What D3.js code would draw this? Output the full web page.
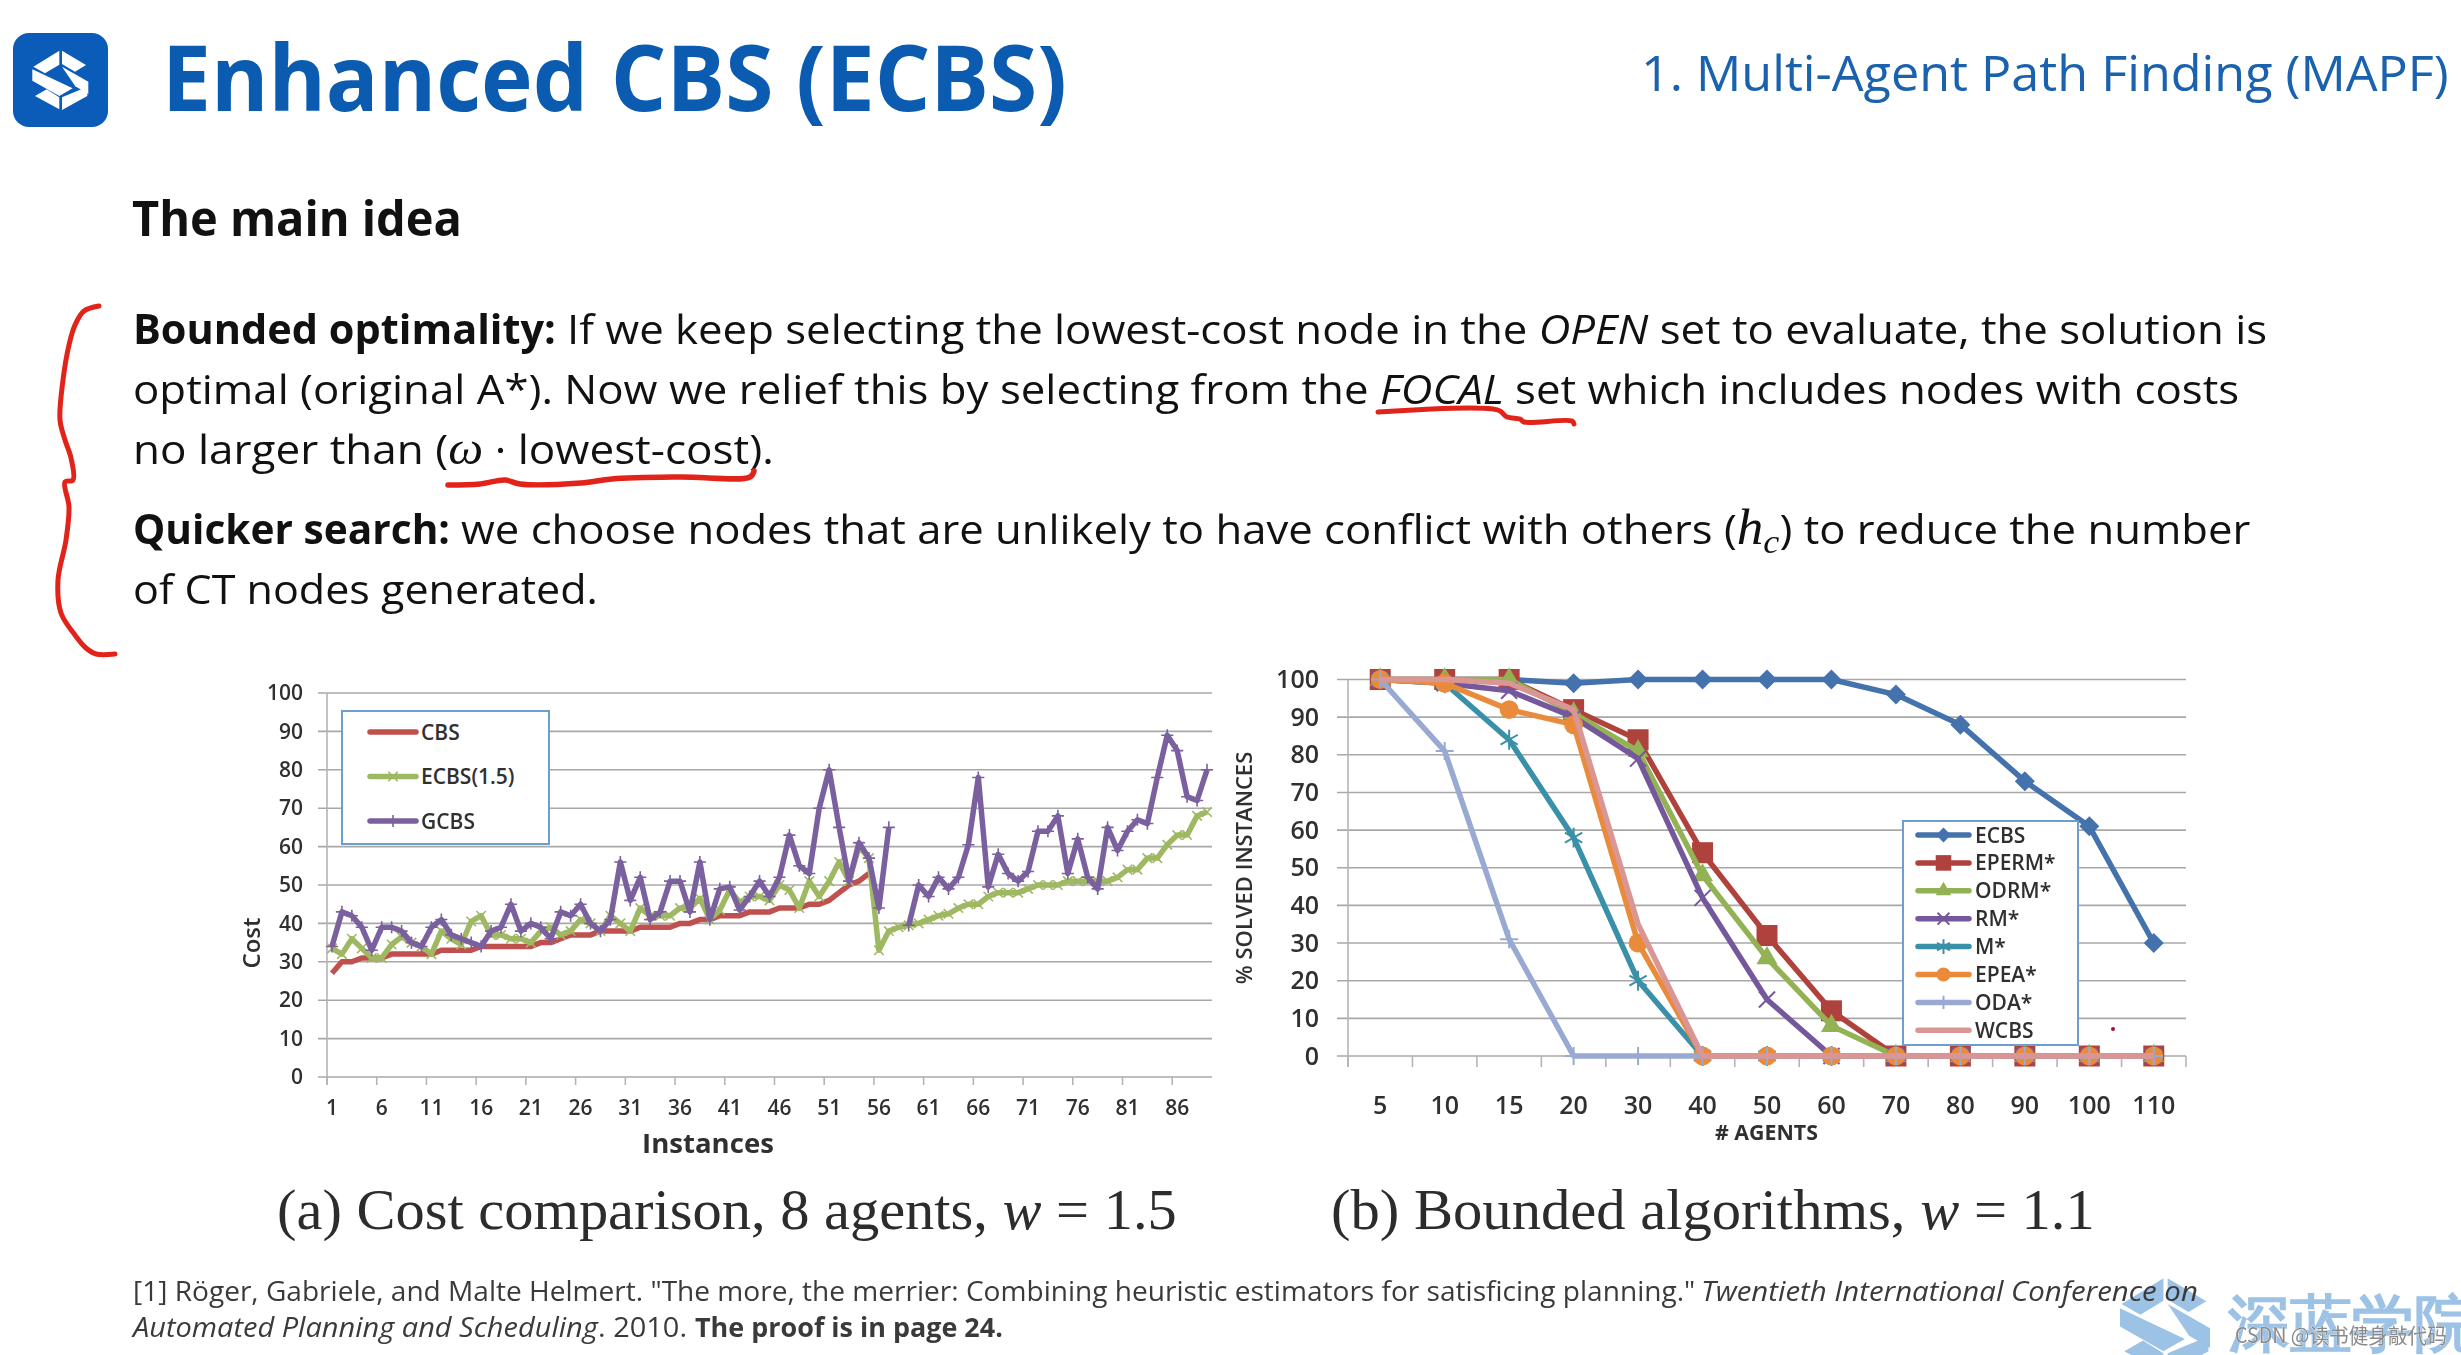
<!DOCTYPE html>
<html>
<head>
<meta charset="utf-8">
<title>Enhanced CBS (ECBS)</title>
<script src="https://cdn.jsdelivr.net/npm/d3@7/dist/d3.min.js"></script>
<style>
  html, body { margin: 0; padding: 0; background: #fff; }
  svg { display: block; filter: blur(0.6px); }
  text { font-family: "Open Sans", sans-serif; }
</style>
</head>
<body>
<svg id="slide" width="2461" height="1355"></svg>
<script>
// Chart (a): cost per instance
var instances = d3.range(1, 90);
var instanceTicks = d3.range(1, 90, 5);
var costTicks = d3.range(0, 101, 10);
var cbsCost = [
  27,30,30,31,31,31,32,32,32,32,
  32,33,33,33,33,34,34,34,34,34,
  34,35,35,36,37,37,37,38,38,38,
  38,39,39,39,39,40,40,41,41,42,
  42,42,43,43,43,44,44,44,45,45,
  46,48,50,51,53];
var ecbsCost = [
  33.5,32,36,33.5,31,31,34.5,36.5,35,34,
  32,38,36,34.5,40.5,42,37,37,36,36,
  35,38,39,37,38,41,40,38,42,40,
  38,44,42,42,42,44,44,46.5,41,43.5,
  48.7,45.5,47,47,46,50,48.7,44,51,47,
  51,56,51,60,57,33,38,39,39.5,40,
  41,42,42.5,44,45,45,47,48,48,48,
  49,50,50,50,51,51,51,51,51,52,
  54,54,57,57,60.5,63,63,68,69];
var gcbsCost = [
  34,43,42,39,33,39,39,38,35,34,
  39,41,37,36,35,34,38,39,45,38,
  40,39,36,43,42,45,40,38,41,56,
  46,52,41,43,51,51,43,56,41,49,
  49.5,43.5,47,51,47,52,63,55,53,70,
  80,65,51,61,57,44,65,null,39.5,50,
  47,52,49,52,60.5,78,49.5,58,53,51,
  53.5,64,64,68,53,62,52,49,65,59,
  64,67,66,78,89,85,73,72,80];

// Chart (b): % solved per agent count
var agents = [5,10,15,20,30,40,50,60,70,80,90,100,110];
var solvedTicks = d3.range(0, 101, 10);
var ecbsSolved  = [100,100,100,99,100,100,100,100,96,88,73,61,30];
var epermSolved = [100,100,100,92,84,54,32,12,0,0,0,0,0];
var odrmSolved  = [100,100,100,91,81,48,26,8,0,0,0,0,0];
var rmSolved    = [100,99,97,90,79,42,15,0,0,0,0,0,0];
var mSolved     = [100,99,84,58,20,0,0,0,0,0,0,0,0];
var epeaSolved  = [100,99,92,88,30,0,0,0,0,0,0,0,0];
var odaSolved   = [100,81,31,0,0,0,0,0,0,0,0,0,0];
var wcbsSolved  = [100,100,99,92,35,0,0,0,0,0,0,0,0];

var costSeries = [
  {name: "CBS", values: cbsCost, color: "#c0504d", symbol: null},
  {name: "ECBS(1.5)", values: ecbsCost, color: "#9fb862", symbol: d3.symbolTimes, size: 60},
  {name: "GCBS", values: gcbsCost, color: "#7b609f", symbol: d3.symbolPlus, size: 50}
];
var solvedSeries = [
  {name: "ECBS", values: ecbsSolved, color: "#4472ac", symbol: d3.symbolDiamond2, size: 255, fill: true},
  {name: "EPERM*", values: epermSolved, color: "#b0423e", symbol: d3.symbolSquare, size: 441, fill: true},
  {name: "ODRM*", values: odrmSolved, color: "#93b253", symbol: d3.symbolTriangle, size: 191, fill: true},
  {name: "RM*", values: rmSolved, color: "#75589b", symbol: d3.symbolTimes, size: 170},
  {name: "M*", values: mSolved, color: "#3a90a8", symbol: d3.symbolAsterisk, size: 282},
  {name: "EPEA*", values: epeaSolved, color: "#ea8b3c", symbol: d3.symbolCircle, size: 283, fill: true},
  {name: "ODA*", values: odaSolved, color: "#98a9d2", symbol: d3.symbolPlus, size: 108},
  {name: "WCBS", values: wcbsSolved, color: "#d99694", symbol: null}
];

var svg = d3.select("#slide");
var GRID = "#a8a8a8", LABEL = "#303030", RED = "#e2231a";

// draw one line of mixed runs, squeezed to the measured width of the reference
function fitText(x, y, width, size, runs, color) {
  var t = svg.append("text").attr("font-size", size).attr("fill", color || "#111");
  runs.forEach(function(r) {
    t.append("tspan")
      .attr("font-weight", r.bold ? 700 : 400)
      .attr("font-style", r.italic ? "italic" : "normal")
      .attr("font-family", r.serif ? "'Liberation Serif', serif" : r.family || null)
      .attr("font-size", r.size || null)
      .attr("dy", r.dy || null)
      .text(r.t);
  });
  var k = width / t.node().getComputedTextLength();
  t.attr("transform", "translate(" + x + "," + y + ") scale(" + k + ",1)");
  return t;
}

function logoMark(g, fill) {
  var pieces = [
    [[178,92],[100,140],[135,160],[178,134]],
    [[186,92],[258,135],[225,155],[186,132]],
    [[97,148],[97,182],[178,228],[218,205]],
    [[186,140],[265,185],[265,222],[226,199]],
    [[105,228],[140,208],[178,232],[178,268]],
    [[186,232],[262,200],[262,228],[186,270]]
  ];
  g.selectAll("polygon").data(pieces).enter().append("polygon")
    .attr("points", function(d) { return d.join(" "); })
    .attr("fill", fill);
}

// watermark sits behind the footnote
var wm = svg.append("g").attr("transform", "translate(2068,1229) scale(0.536)");
logoMark(wm, "#9cc2e5");
svg.append("text").attr("x", 2228).attr("y", 1345)
  .attr("font-family", "'Noto Sans CJK SC'").attr("font-weight", 700)
  .attr("font-size", 62).attr("fill", "#9cc2e5").text("深蓝学院");

// header
svg.append("rect").attr("x", 13).attr("y", 33).attr("width", 95).attr("height", 94)
  .attr("rx", 16).attr("fill", "#0b5cb8");
logoMark(svg.append("g").attr("transform", "translate(0,20) scale(0.3333)"), "#fff");
fitText(162, 110.5, 905, 92, [{t: "Enhanced CBS (ECBS)", bold: true}], "#0b5cb0");
fitText(1641, 91, 808, 50, [{t: "1. Multi-Agent Path Finding (MAPF)"}], "#1a62ad");
fitText(132, 236, 330, 48, [{t: "The main idea", bold: true}], "#111");

// body text, bold lead-ins fitted apart from the rest of their line
fitText(133, 344, 423, 41, [{t: "Bounded optimality:", bold: true}]);
fitText(567, 344, 1701, 41, [
  {t: "If we keep selecting the lowest-cost node in the "},
  {t: "OPEN", italic: true},
  {t: " set to evaluate, the solution is"}]);
fitText(133, 404, 2107, 41, [
  {t: "optimal (original A*). Now we relief this by selecting from the "},
  {t: "FOCAL", italic: true},
  {t: " set which includes nodes with costs"}]);
fitText(133, 464, 641, 41, [
  {t: "no larger than ("},
  {t: "ω", italic: true, serif: true, size: 46},
  {t: " · lowest-cost)."}]);
fitText(133, 544, 317, 41, [{t: "Quicker search:", bold: true}]);
fitText(461, 544, 1790, 41, [
  {t: "we choose nodes that are unlikely to have conflict with others ("},
  {t: "h", italic: true, serif: true, size: 50},
  {t: "c", italic: true, serif: true, size: 34, dy: 9},
  {t: ") to reduce the number", dy: -9}]);
fitText(133, 604, 465, 41, [{t: "of CT nodes generated."}]);

// pen marks over the text
var penMarks = [
  {w: 5, pts: [[99,306],[84,311],[75,325],[69,345],[63,380],[60,420],[65,440],[71,458],[73,480],[65,482],[69,507],[66,540],[58,580],[61,613],[75,635],[86,648],[96,654],[115,654]]},
  {w: 5.5, pts: [[448,485],[480,484],[505,480],[520,484],[581,483],[612,479],[680,477],[750,477],[754,471]]},
  {w: 5, pts: [[1378,412],[1498,410],[1507,417],[1520,419],[1524,422],[1572,421],[1574,424]]}
];
var penLine = d3.line().curve(d3.curveCatmullRom.alpha(0.5));
svg.selectAll(".pen").data(penMarks).enter().append("path").attr("class", "pen")
  .attr("d", function(d) { return penLine(d.pts); })
  .attr("fill", "none").attr("stroke", RED).attr("stroke-linecap", "round")
  .attr("stroke-width", function(d) { return d.w; });
svg.append("circle").attr("cx", 2113).attr("cy", 1029).attr("r", 2).attr("fill", "#a0122c");

function drawMark(sel, d, scale) {
  var sym = d3.symbol().type(d.symbol).size(d.size * (scale || 1));
  sel.attr("d", sym())
    .attr("fill", d.fill ? d.color : "none")
    .attr("stroke", d.fill ? "none" : d.color)
    .attr("stroke-width", d.size < 100 ? 1.6 : 2);
}

function drawChart(cfg) {
  var g = svg.append("g");
  var x = d3.scaleBand().domain(cfg.cats).range([cfg.x0, cfg.x1]);
  var y = d3.scaleLinear().domain([0, 100]).range([cfg.y0, cfg.y1]);

  // gridlines, they overshoot the axis on the left like the value ticks
  g.selectAll(".grid").data(cfg.yTicks).enter().append("line").attr("class", "grid")
    .attr("x1", cfg.x0 - cfg.tickOut).attr("x2", cfg.x1)
    .attr("y1", function(d) { return y(d); }).attr("y2", function(d) { return y(d); })
    .attr("stroke", GRID).attr("stroke-width", 1.6);
  g.append("line").attr("x1", cfg.x0).attr("x2", cfg.x0)
    .attr("y1", cfg.y1).attr("y2", cfg.y0 + cfg.tickDown)
    .attr("stroke", "#b4b4b4").attr("stroke-width", 1.6);
  g.selectAll(".tick-x").data(cfg.xTicks.concat(cfg.closeEnd ? ["end"] : [])).enter().append("line").attr("class", "tick-x")
    .attr("x1", function(d) { return d === "end" ? cfg.x1 : x(d); })
    .attr("x2", function(d) { return d === "end" ? cfg.x1 : x(d); })
    .attr("y1", cfg.y0).attr("y2", cfg.y0 + cfg.tickDown)
    .attr("stroke", "#b4b4b4").attr("stroke-width", 1.6);

  // tick labels from the d3 axes, lines removed
  var yAxis = g.append("g").attr("transform", "translate(" + cfg.yLabelX + ",0)")
    .call(d3.axisLeft(y).tickValues(cfg.yTicks).tickSize(0).tickPadding(0));
  var xAxis = g.append("g").attr("transform", "translate(0," + cfg.xLabelY + ")")
    .call(d3.axisBottom(x).tickValues(cfg.xTicks).tickSize(0).tickPadding(0));
  [yAxis, xAxis].forEach(function(a) {
    a.select(".domain").remove();
    a.selectAll("text").attr("font-size", cfg.tickFont).attr("font-weight", 600)
      .attr("font-family", "'Open Sans', sans-serif").attr("fill", LABEL);
  });

  var line = d3.line()
    .defined(function(v) { return v !== null; })
    .x(function(v, i) { return x(cfg.cats[i]) + x.bandwidth() / 2; })
    .y(function(v) { return y(v); });

  cfg.series.forEach(function(s) {
    var sg = g.append("g");
    sg.append("path").attr("d", line(s.values)).attr("fill", "none")
      .attr("stroke", s.color).attr("stroke-width", cfg.lineWidth).attr("stroke-linejoin", "round");
    if (s.symbol) {
      sg.selectAll("path.mark").data(s.values.map(function(v, i) { return {v: v, c: cfg.cats[i]}; })
          .filter(function(p) { return p.v !== null; }))
        .enter().append("path").attr("class", "mark")
        .attr("transform", function(p) { return "translate(" + (x(p.c) + x.bandwidth() / 2) + "," + y(p.v) + ")"; })
        .each(function() { drawMark(d3.select(this), s); });
    }
  });

  // legend
  var l = cfg.legend;
  g.append("rect").attr("x", l.x).attr("y", l.y).attr("width", l.w).attr("height", l.h)
    .attr("fill", "#fff").attr("stroke", "#6c9fd0").attr("stroke-width", 2);
  cfg.series.forEach(function(s, i) {
    var ly = l.firstY + i * l.step;
    g.append("line").attr("x1", l.lineX0).attr("x2", l.lineX1).attr("y1", ly).attr("y2", ly)
      .attr("stroke", s.color).attr("stroke-width", cfg.lineWidth).attr("stroke-linecap", "round");
    if (s.symbol) {
      g.append("path").attr("transform", "translate(" + (l.lineX0 + l.lineX1) / 2 + "," + ly + ")")
        .call(drawMark, s, l.markScale);
    }
    g.append("text").attr("x", l.textX).attr("y", ly).attr("dy", "0.36em")
      .attr("font-size", l.font).attr("font-weight", 600).attr("fill", LABEL).text(s.name);
  });
}

drawChart({
  cats: instances, xTicks: instanceTicks, yTicks: costTicks, series: costSeries,
  x0: 327, x1: 1212, y0: 1077, y1: 693, tickOut: 9, tickDown: 8, closeEnd: false,
  yLabelX: 303, xLabelY: 1100, tickFont: 21, lineWidth: 5.5,
  legend: {x: 342, y: 711, w: 207, h: 133, firstY: 732, step: 44.5, lineX0: 370, lineX1: 416, textX: 421, font: 21, markScale: 1}
});
drawChart({
  cats: agents, xTicks: agents, yTicks: solvedTicks, series: solvedSeries,
  x0: 1348, x1: 2186, y0: 1056, y1: 679.5, tickOut: 11, tickDown: 11, closeEnd: true,
  yLabelX: 1319, xLabelY: 1096, tickFont: 25, lineWidth: 5.5,
  legend: {x: 1903, y: 821, w: 175, h: 224, firstY: 835, step: 27.9, lineX0: 1918, lineX1: 1969, textX: 1975, font: 21, markScale: 0.55}
});

// axis titles and captions
fitText(642, 1153, 132, 26, [{t: "Instances", bold: true}], LABEL);
fitText(1715, 1140, 103, 21, [{t: "# AGENTS", bold: true}], LABEL);
svg.append("text").attr("transform", "translate(260,943) rotate(-90)").attr("text-anchor", "middle")
  .attr("font-size", 24).attr("font-weight", 600).attr("fill", LABEL).text("Cost");
svg.append("text").attr("transform", "translate(1252,868) rotate(-90)").attr("text-anchor", "middle")
  .attr("font-size", 22).attr("font-weight", 600).attr("fill", LABEL).text("% SOLVED INSTANCES");

function caption(x, width, head, tail) {
  fitText(x, 1229, width, 57, [
    {t: head, serif: true},
    {t: "w", serif: true, italic: true},
    {t: tail, serif: true}], "#2c2c2c");
}
caption(277, 900, "(a) Cost comparison, 8 agents, ", " = 1.5");
caption(1331, 764, "(b) Bounded algorithms, ", " = 1.1");

// footnote, runs fitted one by one
var NOTE = "#3a3a3a";
fitText(133, 1301, 1563, 27, [{t: "[1] Röger, Gabriele, and Malte Helmert. \"The more, the merrier: Combining heuristic estimators for satisficing planning.\""}], NOTE);
fitText(1701, 1301, 497, 27, [{t: "Twentieth International Conference on", italic: true}], NOTE);
fitText(133, 1337, 465, 27, [{t: "Automated Planning and Scheduling", italic: true}], NOTE);
fitText(598, 1337, 89, 27, [{t: ". 2010."}], NOTE);
fitText(695, 1337, 308, 27, [{t: "The proof is in page 24.", bold: true}], NOTE);

// video watermark
fitText(2235, 1343, 212, 21, [{t: "CSDN @读书健身敲代码", family: "'Noto Sans CJK SC'"}], "#8a8a8a")
  .attr("stroke", "#fff").attr("stroke-width", 0.6).attr("paint-order", "stroke");
</script>
</body>
</html>
